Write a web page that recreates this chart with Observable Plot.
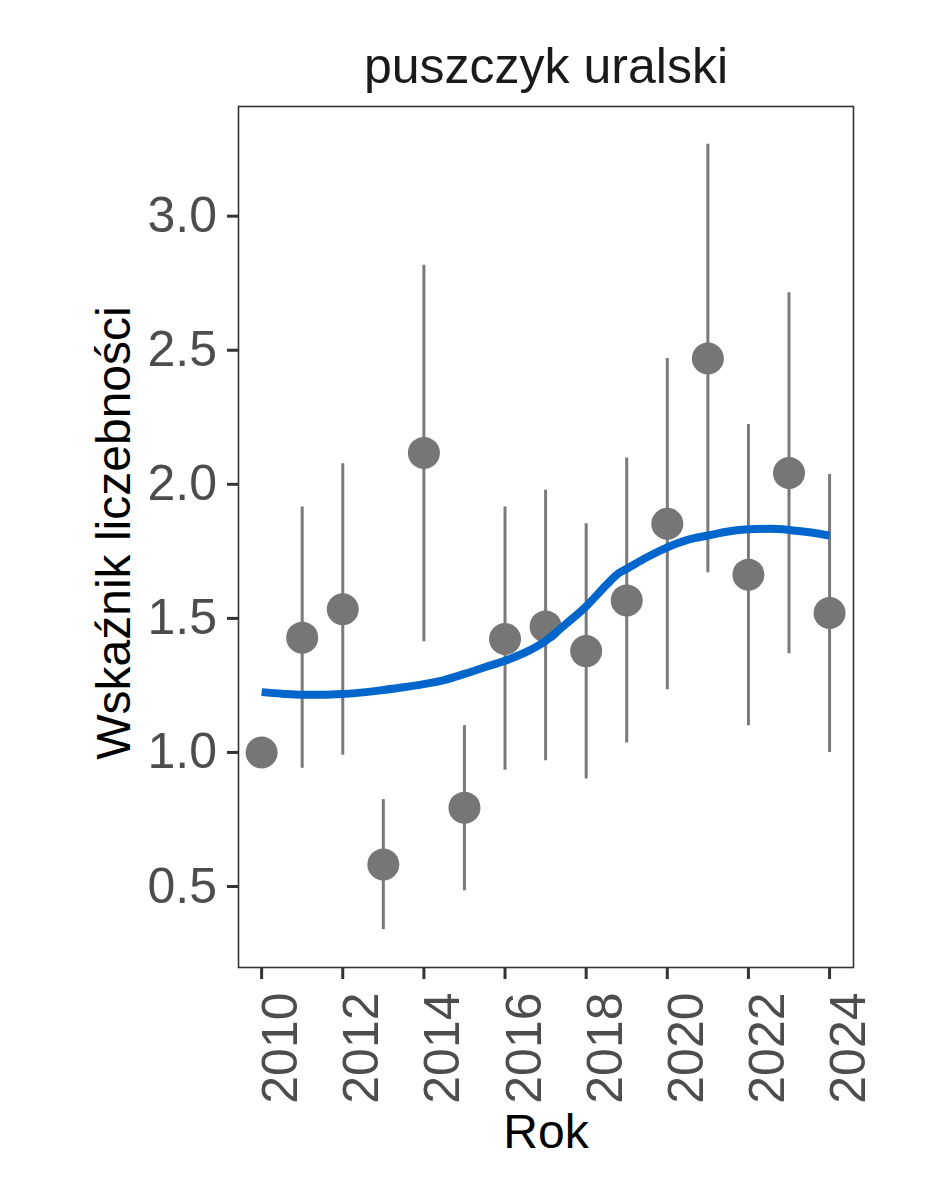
<!DOCTYPE html>
<html><head><meta charset="utf-8">
<script src="https://cdn.jsdelivr.net/npm/d3@7"></script>
<script src="https://cdn.jsdelivr.net/npm/@observablehq/plot@0.6"></script>
<style>html,body{margin:0;padding:0;background:#fff} svg{display:block}</style>
</head><body><div id="chart"></div>
<script>
const title = "puszczyk uralski";
const xLabel = "Rok";
const yLabel = "Wskaźnik liczebności";

const years = [2010, 2011, 2012, 2013, 2014, 2015, 2016, 2017, 2018, 2019, 2020, 2021, 2022, 2023, 2024];
const index = [1.0, 1.428, 1.534, 0.582, 2.117, 0.794, 1.423, 1.47, 1.378, 1.567, 1.853, 2.469, 1.663, 2.042, 1.52];
const lower = [null, 0.941, 0.99, 0.339, 1.413, 0.484, 0.934, 0.969, 0.901, 1.035, 1.234, 1.67, 1.10, 1.368, 1.0];
const upper = [null, 1.915, 2.077, 0.824, 2.817, 1.10, 1.915, 1.978, 1.853, 2.098, 2.469, 3.268, 2.223, 2.714, 2.037];

const trendYears = [2010, 2010.5, 2011, 2011.5, 2012, 2012.5, 2013, 2013.5, 2014, 2014.5, 2015, 2015.5, 2016, 2016.5, 2017, 2017.5, 2018, 2018.5, 2018.8, 2019, 2019.5, 2020, 2020.5, 2021, 2021.5, 2022, 2022.5, 2023, 2023.5, 2024];
const trendValues = [1.225, 1.219, 1.215, 1.215, 1.218, 1.224, 1.233, 1.243, 1.255, 1.27, 1.293, 1.318, 1.342, 1.373, 1.416, 1.479, 1.545, 1.625, 1.668, 1.685, 1.728, 1.765, 1.793, 1.809, 1.824, 1.832, 1.834, 1.83, 1.821, 1.809];

const xTicks = [2010, 2012, 2014, 2016, 2018, 2020, 2022, 2024];
const yTicks = [0.5, 1.0, 1.5, 2.0, 2.5, 3.0];

const points = years.map((y, i) => ({year: y, value: index[i], lo: lower[i], hi: upper[i]}));
const bars = points.filter(d => d.lo != null);
const trend = trendYears.map((y, i) => ({year: y, value: trendValues[i]}));

const FONT = "'Liberation Sans', Arial, Helvetica, sans-serif";

const chart = Plot.plot({
  width: 944,
  height: 1181,
  marginTop: 106,
  marginLeft: 238,
  marginRight: 91,
  marginBottom: 214,
  style: {fontFamily: FONT, background: "#ffffff"},
  x: {type: "linear", domain: [2009.43, 2024.59]},
  y: {type: "linear", domain: [0.198, 3.409]},
  marks: [
    Plot.ruleX(bars, {x: "year", y1: "lo", y2: "hi", stroke: "#7a7a7a", strokeWidth: 3}),
    Plot.dot(points, {x: "year", y: "value", r: 16, fill: "#767676", stroke: "none"}),
    Plot.line(trend, {x: "year", y: "value", stroke: "#0066CC", strokeWidth: 8, curve: "monotone-x", strokeLinecap: "butt"}),
    Plot.frame({stroke: "#333333", strokeWidth: 1.6}),
    Plot.axisY(yTicks, {
      tickSize: 11, tickPadding: 10.5, strokeWidth: 3, stroke: "#333333", fill: "#4d4d4d",
      fontSize: 50, tickFormat: d3.format(".1f"), label: null
    }),
    Plot.axisX(xTicks, {
      tickSize: 12, tickPadding: 13, strokeWidth: 3, stroke: "#333333", fill: "#4d4d4d",
      fontSize: 50, tickRotate: -90, textAnchor: "end", lineAnchor: "top",
      tickFormat: d => String(d), label: null
    }),
    Plot.text([title], {frameAnchor: "top", textAnchor: "middle", lineAnchor: "bottom", dy: -24, fontSize: 50, fill: "#1a1a1a"}),
    Plot.text([xLabel], {frameAnchor: "bottom", textAnchor: "middle", lineAnchor: "bottom", dy: 180, fontSize: 48, fill: "#000000"}),
    Plot.text([yLabel], {frameAnchor: "left", textAnchor: "middle", lineAnchor: "bottom", rotate: -90, dx: -109, dy: -4, fontSize: 48, fill: "#000000"})
  ]
});
document.getElementById("chart").appendChild(chart);
</script>
</body></html>
